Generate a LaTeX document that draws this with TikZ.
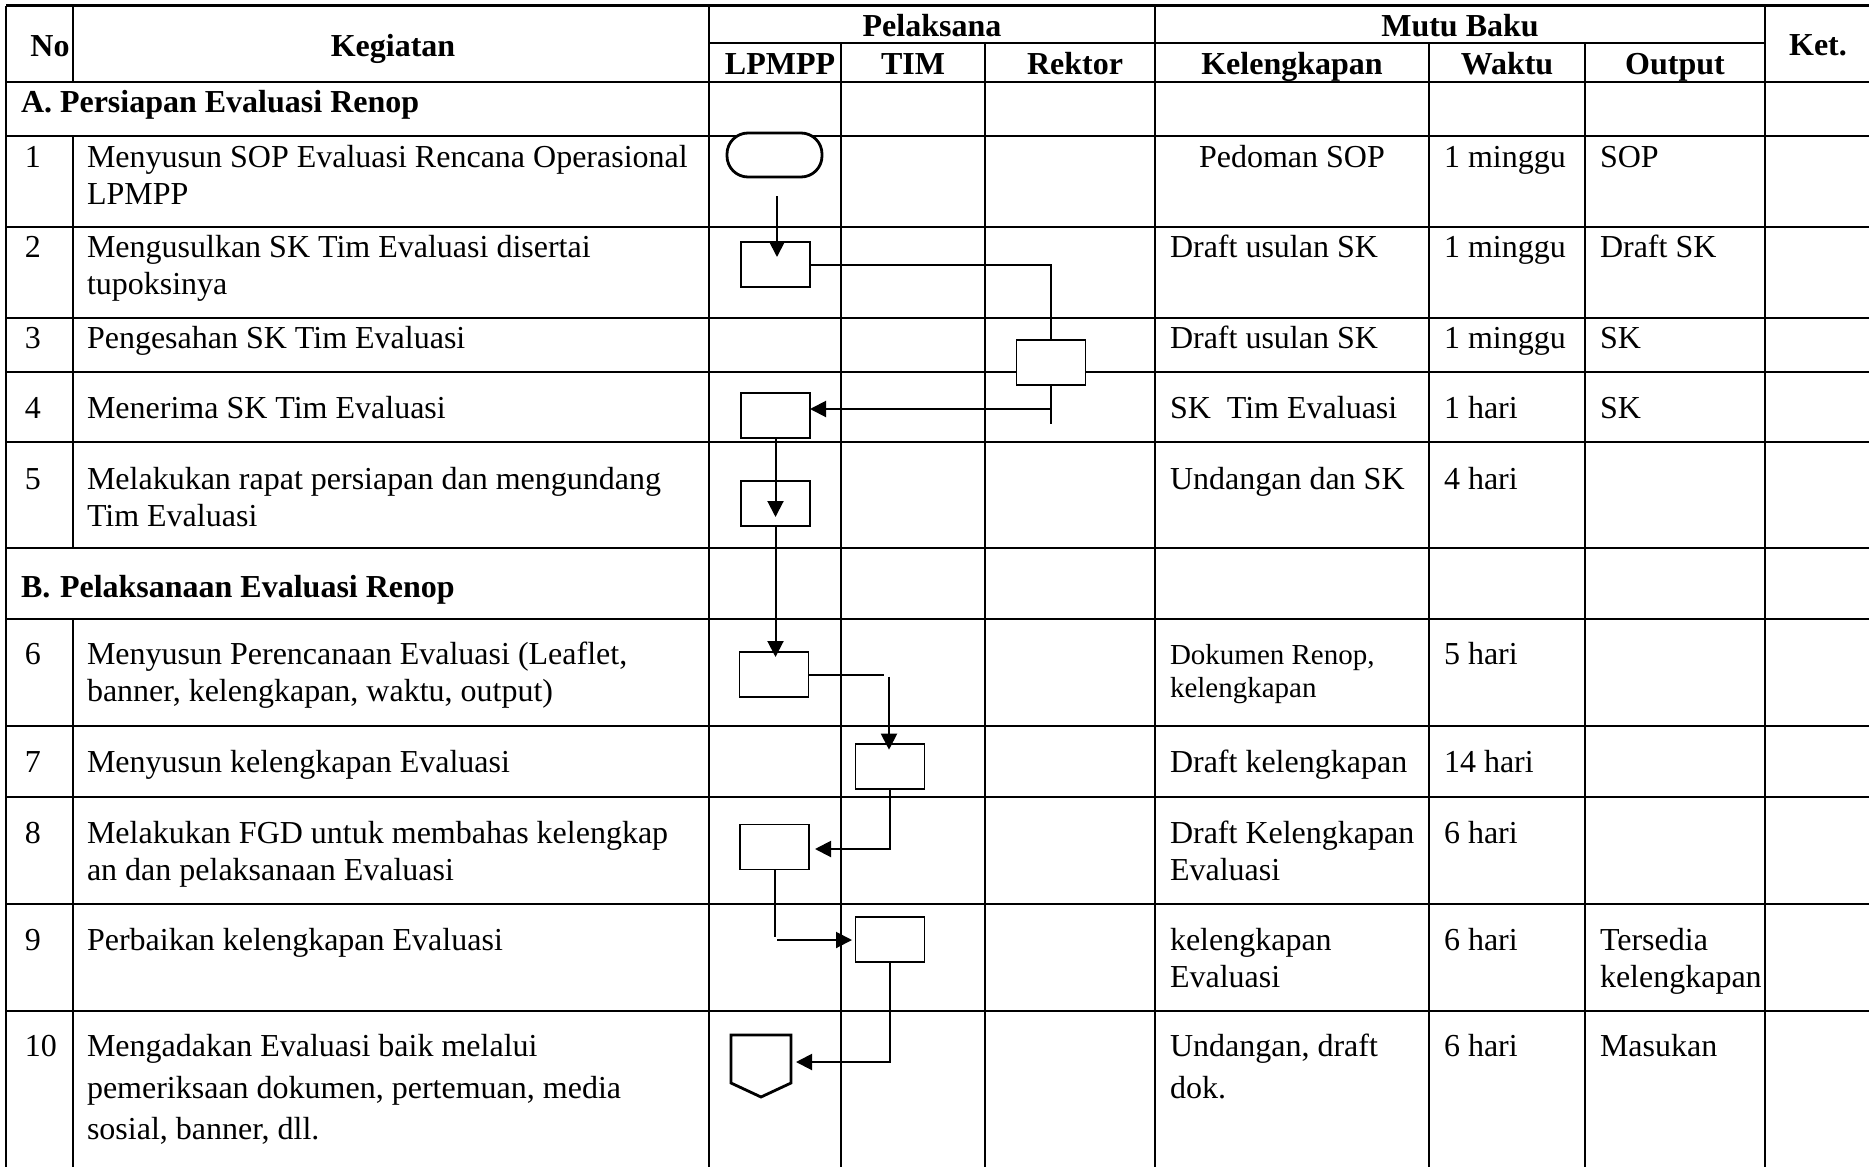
\documentclass[tikz,border=0pt]{standalone}
\usepackage{fontspec}
\setmainfont{Liberation Serif}
\usetikzlibrary{arrows.meta,calc}
\begin{document}
\begin{tikzpicture}[x=0.5pt,y=-0.5pt,
  grid/.style={line width=1.15pt},
  tx/.style={anchor=base west, inner sep=0pt, outer sep=0pt, font=\fontsize{16}{18}\selectfont},
  txs/.style={tx, font=\fontsize{14.5}{17}\selectfont},
  hd/.style={anchor=base, inner sep=0pt, outer sep=0pt, font=\fontsize{16}{18}\selectfont\bfseries},
  sec/.style={tx, font=\fontsize{16}{18}\selectfont\bfseries},
  fbox/.style={draw, fill=white, line width=0.85pt, minimum width=34.5pt, minimum height=22.5pt, inner sep=0pt, outer sep=0pt},
  term/.style={draw, fill=white, line width=1.4pt, rounded corners=10.5pt, minimum width=47.5pt, minimum height=22pt, inner sep=0pt, outer sep=0pt},
  conn/.style={line width=1pt},
  arr/.style={conn, -{Triangle[length=8pt,width=8pt]}}
]
\useasboundingbox (0,0) rectangle (1869,1167);
\fill[white] (0,0) rectangle (1869,1167);

% ---------- table grid ----------
\draw[grid] (6,5.5) -- (1869,5.5);
\draw[grid] (709,43.3) -- (1765,43.3);
\draw[line width=1.4pt] (6,82) -- (1869,82);
\foreach \y in {135.7,226.7,317.7,371.7,441.7,548.3,619,726,796.7,904,1010.7}
  \draw[grid] (6,\y) -- (1869,\y);
\draw[grid] (6,5.5) -- (6,1167);
\draw[grid] (73,5.5) -- (73,82);
\draw[grid] (73,135.7) -- (73,548.3);
\draw[grid] (73,619) -- (73,1167);
\foreach \x in {709,1155,1765} \draw[grid] (\x,5.5) -- (\x,1167);
\foreach \x in {841,985,1429,1585} \draw[grid] (\x,43.3) -- (\x,1167);

% ---------- header ----------
\node[hd] (hno) at (50,56) {No};
\node[hd] (hkeg) at (393,56) {Kegiatan};
\node[hd] (hpel) at (932,36) {Pelaksana};
\node[hd] (hmut) at (1460,36) {Mutu Baku};
\node[hd] (hlp) at (780,74) {LPMPP};
\node[hd] (htim) at (913,74) {TIM};
\node[hd] (hrek) at (1075,74) {Rektor};
\node[hd] (hkel) at (1292,74) {Kelengkapan};
\node[hd] (hwak) at (1507,74) {Waktu};
\node[hd] (hout) at (1675,74) {Output};
\node[hd] (hket) at (1818,55) {Ket.};

% ---------- sections ----------
\node[sec] (sA1) at (21,112) {A.};
\node[sec] (sA2) at (60,112) {Persiapan Evaluasi Renop};
\node[sec] (sB1) at (21,597) {B.};
\node[sec] (sB2) at (60,597) {Pelaksanaan Evaluasi Renop};

% ---------- numbers ----------
\node[tx] (n1) at (25,167) {1};
\node[tx] (n2) at (25,257) {2};
\node[tx] (n3) at (25,348) {3};
\node[tx] (n4) at (25,418) {4};
\node[tx] (n5) at (25,489) {5};
\node[tx] (n6) at (25,664) {6};
\node[tx] (n7) at (25,772) {7};
\node[tx] (n8) at (25,843) {8};
\node[tx] (n9) at (25,950) {9};
\node[tx] (n10) at (25,1056) {10};

% ---------- kegiatan ----------
\node[tx] (k1a) at (87,167) {Menyusun SOP Evaluasi Rencana Operasional};
\node[tx] (k1b) at (87,204) {LPMPP};
\node[tx] (k2a) at (87,257) {Mengusulkan SK Tim Evaluasi disertai};
\node[tx] (k2b) at (87,294) {tupoksinya};
\node[tx] (k3) at (87,348) {Pengesahan SK Tim Evaluasi};
\node[tx] (k4) at (87,418) {Menerima SK Tim Evaluasi};
\node[tx] (k5a) at (87,489) {Melakukan rapat persiapan dan mengundang};
\node[tx] (k5b) at (87,526) {Tim Evaluasi};
\node[tx] (k6a) at (87,664) {Menyusun Perencanaan Evaluasi (Leaflet,};
\node[tx] (k6b) at (87,701) {banner, kelengkapan, waktu, output)};
\node[tx] (k7) at (87,772) {Menyusun kelengkapan Evaluasi};
\node[tx] (k8a) at (87,843) {Melakukan FGD untuk membahas kelengkap};
\node[tx] (k8b) at (87,880) {an dan pelaksanaan Evaluasi};
\node[tx] (k9) at (87,950) {Perbaikan kelengkapan Evaluasi};
\node[tx] (k10a) at (87,1056) {Mengadakan Evaluasi baik melalui};
\node[tx] (k10b) at (87,1098) {pemeriksaan dokumen, pertemuan, media};
\node[tx] (k10c) at (87,1139) {sosial, banner, dll.};

% ---------- kelengkapan ----------
\node[tx] (m1) at (1199,167) {Pedoman SOP};
\node[tx] (m2) at (1170,257) {Draft usulan SK};
\node[tx] (m3) at (1170,348) {Draft usulan SK};
\node[tx] (m4) at (1170,418) {SK\ \ Tim Evaluasi};
\node[tx] (m5) at (1170,489) {Undangan dan SK};
\node[txs] (m6a) at (1170,664) {Dokumen Renop,};
\node[txs] (m6b) at (1170,697) {kelengkapan};
\node[tx] (m7) at (1170,772) {Draft kelengkapan};
\node[tx] (m8a) at (1170,843) {Draft Kelengkapan};
\node[tx] (m8b) at (1170,880) {Evaluasi};
\node[tx] (m9a) at (1170,950) {kelengkapan};
\node[tx] (m9b) at (1170,987) {Evaluasi};
\node[tx] (m10a) at (1170,1056) {Undangan, draft};
\node[tx] (m10b) at (1170,1098) {dok.};

% ---------- waktu ----------
\node[tx] (w1) at (1444,167) {1 minggu};
\node[tx] (w2) at (1444,257) {1 minggu};
\node[tx] (w3) at (1444,348) {1 minggu};
\node[tx] (w4) at (1444,418) {1 hari};
\node[tx] (w5) at (1444,489) {4 hari};
\node[tx] (w6) at (1444,664) {5 hari};
\node[tx] (w7) at (1444,772) {14 hari};
\node[tx] (w8) at (1444,843) {6 hari};
\node[tx] (w9) at (1444,950) {6 hari};
\node[tx] (w10) at (1444,1056) {6 hari};

% ---------- output ----------
\node[tx] (o1) at (1600,167) {SOP};
\node[tx] (o2) at (1600,257) {Draft SK};
\node[tx] (o3) at (1600,348) {SK};
\node[tx] (o4) at (1600,418) {SK};
\node[tx] (o9a) at (1600,950) {Tersedia};
\node[tx] (o9b) at (1600,987) {kelengkapan};
\node[tx] (o10) at (1600,1056) {Masukan};

% ---------- flow shapes ----------
\node[term] (t1) at (774.5,155) {};
\node[fbox] (b2) at (775.5,264.5) {};
\node[fbox] (b3) at (1051,362.5) {};
\node[fbox] (b4) at (775.5,415.5) {};
\node[fbox] (b5) at (775.5,503.5) {};
\node[fbox] (b6) at (774,674.5) {};
\node[fbox] (b7) at (890,766.5) {};
\node[fbox] (b8) at (774.5,847) {};
\node[fbox] (b9) at (890,939.5) {};
\draw[line width=1.4pt, line join=miter, fill=white] (731,1035) -- (791,1035) -- (791,1083) -- (761,1097) -- (731,1083) -- cycle;
\coordinate (p10) at (796,1062);

% ---------- connectors ----------
\coordinate (c1s) at (777,196);
\coordinate (c1e) at (777,257);
\draw[arr] (c1s) -- (c1e);
\draw[conn] (b2.east) -| (b3.north);
\draw[conn] (b3.south) -- ++(0,39);
\coordinate (j4) at (1051,409);
\draw[arr] (j4) -- (j4 -| b4.east);
\draw[arr] (b4.south) -- ++(0,79);
\draw[arr] (b5.south) -- ++(0,131);
\draw[conn] (b6.east) -- ++(75,0);
\coordinate (j6) at (889,676.7);
\draw[arr] (j6) -- ++(0,73);
\coordinate (j7) at (815,849);
\draw[arr] (b7.south) |- (j7);
\draw[conn] (b8.south) -- ++(0,67);
\coordinate (j8) at (777,940);
\draw[arr] (j8) -- ++(75,0);
\draw[arr] (b9.south) |- (p10);
\end{tikzpicture}
\end{document}
